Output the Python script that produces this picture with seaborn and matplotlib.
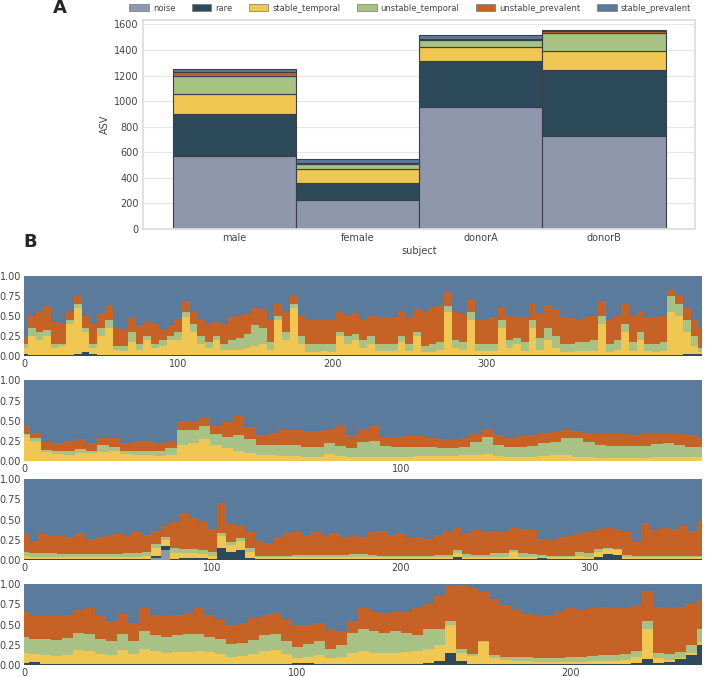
#!/usr/bin/env python3
import matplotlib
matplotlib.use("Agg")
import matplotlib.pyplot as plt
import numpy as np
import pandas as pd
import seaborn as sns
from matplotlib.patches import Patch

SUBJECTS = ["male", "female", "donorA", "donorB"]
TYPES = ["noise", "rare", "stable_temporal", "unstable_temporal",
         "unstable_prevalent", "stable_prevalent"]
COLORS = {
    "noise": "#8e97ab",
    "rare": "#2d4a5b",
    "stable_temporal": "#efc752",
    "unstable_temporal": "#a8c184",
    "unstable_prevalent": "#c66226",
    "stable_prevalent": "#5a7b9c",
}

# panel A: number of ASVs per class and subject
noise_asv = [572, 223, 957, 724]
rare_asv = [325, 139, 357, 521]
stable_temporal_asv = [157, 105, 110, 145]
unstable_temporal_asv = [143, 39, 52, 146]
unstable_prevalent_asv = [31, 13, 13, 13]
stable_prevalent_asv = [26, 26, 32, 11]

# panel B: relative abundance, cumulative top of each class per sample
# (stable_prevalent fills the rest up to 1)
male_days = np.arange(0, 445, 5)
male_rare = [0.02, 0.01, 0.01, 0.01, 0.01, 0.01, 0.01, 0.03, 0.05, 0.02,
             0.01, 0.01, 0.01, 0.01, 0.01, 0.01, 0.01, 0.01, 0.01, 0.01,
             0.01, 0.01, 0.01, 0.01, 0.01, 0.01, 0.01, 0.01, 0.01, 0.01,
             0.01, 0.01, 0.01, 0.01, 0.01, 0.01, 0.01, 0.01, 0.01, 0.01,
             0.01, 0.01, 0.01, 0.01, 0.01, 0.01, 0.01, 0.01, 0.01, 0.01,
             0.01, 0.01, 0.01, 0.01, 0.01, 0.01, 0.01, 0.01, 0.01, 0.01,
             0.01, 0.01, 0.01, 0.01, 0.01, 0.01, 0.01, 0.01, 0.01, 0.01,
             0.01, 0.01, 0.01, 0.01, 0.01, 0.01, 0.01, 0.01, 0.01, 0.01,
             0.01, 0.01, 0.01, 0.01, 0.01, 0.01, 0.02, 0.03, 0.03]
male_stable_temporal = [
    0.10, 0.25, 0.20, 0.25, 0.10, 0.12, 0.40, 0.60, 0.30, 0.10,
    0.25, 0.35, 0.07, 0.06, 0.18, 0.08, 0.20, 0.10, 0.12, 0.20,
    0.20, 0.48, 0.30, 0.15, 0.10, 0.20, 0.08, 0.08, 0.08, 0.10,
    0.12, 0.15, 0.08, 0.45, 0.20, 0.60, 0.15, 0.05, 0.05, 0.06,
    0.05, 0.25, 0.15, 0.20, 0.10, 0.15, 0.06, 0.06, 0.06, 0.18,
    0.06, 0.25, 0.05, 0.05, 0.08, 0.55, 0.10, 0.08, 0.45, 0.06,
    0.06, 0.06, 0.35, 0.10, 0.15, 0.06, 0.35, 0.08, 0.20, 0.10,
    0.05, 0.05, 0.06, 0.06, 0.06, 0.40, 0.05, 0.08, 0.30, 0.06,
    0.20, 0.06, 0.05, 0.06, 0.55, 0.50, 0.30, 0.12, 0.05]
male_unstable_temporal = [
    0.15, 0.35, 0.30, 0.32, 0.15, 0.15, 0.45, 0.65, 0.35, 0.15,
    0.35, 0.45, 0.12, 0.12, 0.30, 0.15, 0.25, 0.15, 0.20, 0.25,
    0.30, 0.55, 0.40, 0.25, 0.18, 0.25, 0.15, 0.20, 0.22, 0.28,
    0.38, 0.35, 0.18, 0.50, 0.30, 0.65, 0.25, 0.15, 0.15, 0.15,
    0.15, 0.30, 0.25, 0.28, 0.20, 0.25, 0.15, 0.15, 0.15, 0.25,
    0.15, 0.30, 0.12, 0.15, 0.18, 0.62, 0.20, 0.18, 0.55, 0.15,
    0.15, 0.15, 0.45, 0.20, 0.22, 0.18, 0.45, 0.22, 0.35, 0.25,
    0.15, 0.15, 0.18, 0.18, 0.20, 0.50, 0.15, 0.20, 0.40, 0.18,
    0.30, 0.15, 0.15, 0.18, 0.75, 0.65, 0.45, 0.25, 0.10]
male_unstable_prevalent = [
    0.22, 0.50, 0.55, 0.62, 0.42, 0.40, 0.55, 0.75, 0.50, 0.40,
    0.52, 0.62, 0.35, 0.32, 0.48, 0.38, 0.42, 0.40, 0.32, 0.38,
    0.45, 0.68, 0.55, 0.45, 0.40, 0.42, 0.40, 0.48, 0.50, 0.52,
    0.60, 0.58, 0.45, 0.65, 0.55, 0.75, 0.50, 0.45, 0.45, 0.45,
    0.45, 0.55, 0.50, 0.52, 0.45, 0.50, 0.48, 0.47, 0.48, 0.55,
    0.48, 0.58, 0.55, 0.60, 0.62, 0.80, 0.55, 0.52, 0.70, 0.45,
    0.45, 0.48, 0.60, 0.50, 0.48, 0.48, 0.65, 0.52, 0.63, 0.58,
    0.48, 0.47, 0.45, 0.48, 0.50, 0.68, 0.45, 0.50, 0.65, 0.50,
    0.55, 0.48, 0.48, 0.50, 0.82, 0.75, 0.60, 0.45, 0.35]

female_days = np.arange(0, 183, 3)
female_stable_temporal = [
    0.32, 0.25, 0.11, 0.09, 0.08, 0.10, 0.10, 0.11, 0.12, 0.09,
    0.08, 0.07, 0.06, 0.08, 0.20, 0.22, 0.27, 0.20, 0.16, 0.12,
    0.10, 0.08, 0.07, 0.06, 0.06, 0.05, 0.05, 0.09, 0.06, 0.05,
    0.05, 0.05, 0.05, 0.05, 0.05, 0.06, 0.06, 0.06, 0.06, 0.07,
    0.08, 0.09, 0.06, 0.05, 0.05, 0.05, 0.06, 0.07, 0.08, 0.05,
    0.05, 0.04, 0.04, 0.04, 0.04, 0.04, 0.05, 0.05, 0.05, 0.05,
    0.05]
female_unstable_temporal = [
    0.34, 0.28, 0.14, 0.12, 0.13, 0.15, 0.13, 0.20, 0.18, 0.13,
    0.13, 0.13, 0.13, 0.16, 0.38, 0.38, 0.43, 0.33, 0.30, 0.32,
    0.27, 0.20, 0.20, 0.20, 0.20, 0.18, 0.18, 0.22, 0.19, 0.16,
    0.24, 0.25, 0.19, 0.18, 0.18, 0.18, 0.17, 0.16, 0.16, 0.18,
    0.24, 0.30, 0.20, 0.18, 0.18, 0.19, 0.22, 0.24, 0.28, 0.28,
    0.24, 0.20, 0.19, 0.19, 0.19, 0.19, 0.21, 0.23, 0.20, 0.18,
    0.17]
female_unstable_prevalent = [
    0.44, 0.35, 0.24, 0.23, 0.25, 0.27, 0.23, 0.29, 0.28, 0.23,
    0.25, 0.25, 0.22, 0.24, 0.50, 0.48, 0.53, 0.44, 0.48, 0.56,
    0.42, 0.32, 0.35, 0.38, 0.38, 0.37, 0.37, 0.38, 0.43, 0.32,
    0.40, 0.44, 0.30, 0.30, 0.31, 0.31, 0.29, 0.27, 0.26, 0.28,
    0.34, 0.38, 0.32, 0.29, 0.31, 0.32, 0.35, 0.36, 0.38, 0.37,
    0.35, 0.33, 0.34, 0.33, 0.32, 0.33, 0.34, 0.34, 0.33, 0.32,
    0.30]

donorA_days = np.arange(0, 365, 5)
donorA_noise = [0.00, 0.00, 0.00, 0.00, 0.00, 0.00, 0.00, 0.00, 0.00, 0.00,
                0.00, 0.00, 0.00, 0.00, 0.02, 0.12, 0.00, 0.00, 0.00, 0.00,
                0.00, 0.00, 0.00, 0.00, 0.00, 0.00, 0.00, 0.00, 0.00, 0.00,
                0.00, 0.00, 0.00, 0.00, 0.00, 0.00, 0.00, 0.00, 0.00, 0.00,
                0.00, 0.00, 0.00, 0.00, 0.00, 0.00, 0.00, 0.00, 0.00, 0.00,
                0.00, 0.00, 0.00, 0.00, 0.00, 0.00, 0.00, 0.00, 0.00, 0.00,
                0.00, 0.00, 0.00, 0.00, 0.00, 0.00, 0.00, 0.00, 0.00, 0.00,
                0.00, 0.00, 0.00]
donorA_rare = [0.01, 0.01, 0.01, 0.01, 0.01, 0.01, 0.01, 0.01, 0.01, 0.01,
               0.01, 0.01, 0.01, 0.01, 0.05, 0.17, 0.01, 0.02, 0.02, 0.02,
               0.01, 0.15, 0.10, 0.12, 0.02, 0.01, 0.01, 0.01, 0.01, 0.01,
               0.01, 0.01, 0.01, 0.01, 0.01, 0.01, 0.01, 0.01, 0.01, 0.01,
               0.01, 0.01, 0.01, 0.01, 0.01, 0.01, 0.03, 0.01, 0.01, 0.01,
               0.01, 0.01, 0.01, 0.01, 0.01, 0.02, 0.01, 0.01, 0.01, 0.01,
               0.01, 0.03, 0.07, 0.06, 0.01, 0.01, 0.01, 0.01, 0.01, 0.01,
               0.01, 0.01, 0.01]
donorA_stable_temporal = [
    0.05, 0.04, 0.04, 0.04, 0.03, 0.03, 0.03, 0.03, 0.03, 0.04,
    0.04, 0.04, 0.04, 0.05, 0.15, 0.25, 0.08, 0.08, 0.08, 0.07,
    0.05, 0.30, 0.18, 0.24, 0.10, 0.03, 0.03, 0.03, 0.03, 0.03,
    0.03, 0.03, 0.03, 0.03, 0.03, 0.03, 0.03, 0.03, 0.03, 0.03,
    0.03, 0.03, 0.03, 0.03, 0.03, 0.03, 0.08, 0.04, 0.04, 0.04,
    0.04, 0.04, 0.10, 0.04, 0.04, 0.04, 0.03, 0.03, 0.03, 0.05,
    0.04, 0.10, 0.13, 0.12, 0.04, 0.03, 0.03, 0.03, 0.03, 0.03,
    0.03, 0.03, 0.03]
donorA_unstable_temporal = [
    0.10, 0.08, 0.08, 0.08, 0.07, 0.07, 0.07, 0.07, 0.07, 0.07,
    0.07, 0.08, 0.08, 0.10, 0.20, 0.28, 0.15, 0.14, 0.13, 0.12,
    0.10, 0.33, 0.22, 0.27, 0.15, 0.05, 0.05, 0.05, 0.05, 0.06,
    0.06, 0.06, 0.06, 0.06, 0.06, 0.07, 0.07, 0.06, 0.05, 0.05,
    0.05, 0.05, 0.05, 0.05, 0.06, 0.06, 0.12, 0.07, 0.06, 0.06,
    0.08, 0.08, 0.12, 0.08, 0.07, 0.06, 0.05, 0.05, 0.05, 0.10,
    0.08, 0.13, 0.15, 0.14, 0.06, 0.05, 0.05, 0.05, 0.05, 0.05,
    0.05, 0.05, 0.05]
donorA_unstable_prevalent = [
    0.32, 0.24, 0.32, 0.30, 0.30, 0.28, 0.33, 0.26, 0.28, 0.30,
    0.32, 0.30, 0.34, 0.31, 0.36, 0.42, 0.47, 0.58, 0.52, 0.47,
    0.38, 0.70, 0.45, 0.42, 0.35, 0.24, 0.21, 0.28, 0.33, 0.34,
    0.31, 0.34, 0.30, 0.33, 0.29, 0.30, 0.28, 0.34, 0.36, 0.31,
    0.33, 0.27, 0.29, 0.26, 0.31, 0.34, 0.40, 0.33, 0.37, 0.34,
    0.36, 0.35, 0.40, 0.38, 0.37, 0.26, 0.25, 0.28, 0.30, 0.33,
    0.35, 0.38, 0.40, 0.38, 0.34, 0.22, 0.46, 0.37, 0.40, 0.38,
    0.42, 0.36, 0.48]

donorB_days = np.arange(0, 252, 4)
donorB_rare = [0.02, 0.03, 0.01, 0.01, 0.01, 0.01, 0.01, 0.01, 0.01, 0.01,
               0.01, 0.01, 0.01, 0.01, 0.01, 0.01, 0.01, 0.01, 0.01, 0.01,
               0.01, 0.01, 0.01, 0.01, 0.01, 0.02, 0.02, 0.01, 0.01, 0.01,
               0.01, 0.01, 0.01, 0.01, 0.01, 0.01, 0.01, 0.02, 0.05, 0.15,
               0.05, 0.01, 0.01, 0.01, 0.01, 0.01, 0.01, 0.01, 0.01, 0.01,
               0.01, 0.01, 0.01, 0.01, 0.01, 0.01, 0.02, 0.07, 0.02, 0.03,
               0.07, 0.12, 0.25]
donorB_stable_temporal = [
    0.15, 0.13, 0.12, 0.11, 0.12, 0.18, 0.17, 0.13, 0.12, 0.18,
    0.13, 0.20, 0.17, 0.15, 0.16, 0.16, 0.17, 0.16, 0.14, 0.10,
    0.11, 0.13, 0.17, 0.18, 0.13, 0.08, 0.10, 0.12, 0.09, 0.10,
    0.15, 0.17, 0.15, 0.15, 0.15, 0.16, 0.17, 0.20, 0.25, 0.50,
    0.15, 0.11, 0.28, 0.09, 0.06, 0.05, 0.05, 0.04, 0.04, 0.04,
    0.04, 0.04, 0.05, 0.05, 0.05, 0.06, 0.10, 0.45, 0.08, 0.06,
    0.09, 0.15, 0.28]
donorB_unstable_temporal = [
    0.35, 0.32, 0.32, 0.31, 0.33, 0.40, 0.38, 0.32, 0.30, 0.38,
    0.30, 0.42, 0.37, 0.35, 0.37, 0.38, 0.38, 0.35, 0.32, 0.26,
    0.27, 0.31, 0.37, 0.38, 0.29, 0.22, 0.26, 0.30, 0.20, 0.25,
    0.40, 0.45, 0.42, 0.40, 0.42, 0.40, 0.37, 0.45, 0.45, 0.55,
    0.20, 0.14, 0.30, 0.12, 0.10, 0.10, 0.10, 0.08, 0.08, 0.09,
    0.10, 0.10, 0.11, 0.12, 0.12, 0.14, 0.17, 0.55, 0.15, 0.14,
    0.16, 0.25, 0.45]
donorB_unstable_prevalent = [
    0.65, 0.60, 0.60, 0.61, 0.62, 0.68, 0.70, 0.60, 0.55, 0.63,
    0.52, 0.70, 0.62, 0.60, 0.62, 0.64, 0.70, 0.62, 0.56, 0.50,
    0.52, 0.58, 0.62, 0.64, 0.56, 0.50, 0.50, 0.52, 0.45, 0.42,
    0.55, 0.70, 0.65, 0.64, 0.66, 0.65, 0.70, 0.75, 0.85, 0.98,
    0.99, 0.95, 0.90, 0.82, 0.74, 0.68, 0.63, 0.60, 0.62, 0.66,
    0.70, 0.68, 0.71, 0.72, 0.70, 0.70, 0.74, 0.92, 0.72, 0.70,
    0.72, 0.75, 0.82]


def draw_stack(ax, days, tops, names):
    # draw from the top class down so every layer overlaps the one above it
    ax.fill_between(days, 0, 1, step="mid", color=COLORS["stable_prevalent"], lw=0)
    for top, name in reversed(list(zip(tops, names))):
        ax.fill_between(days, 0, top, step="mid", color=COLORS[name], lw=0)
    ax.set_xlim(days[0], days[-1])
    ax.set_ylim(0, 1)
    ax.set_yticks([0, 0.25, 0.5, 0.75, 1.0])
    ax.set_yticklabels(["0.00", "0.25", "0.50", "0.75", "1.00"])
    ax.set_xticks([t for t in (0, 100, 200, 300) if t <= days[-1]])
    ax.grid(False)
    for s in ax.spines.values():
        s.set_visible(False)
    ax.tick_params(labelsize=7, colors="#444444", length=0, pad=2)


sns.set_theme(style="whitegrid")
plt.rcParams["font.family"] = ["DejaVu Sans"]

fig = plt.figure(figsize=(7.05, 6.77), dpi=100)

# ---- A ----
ax = fig.add_axes([0.203, 0.662, 0.783, 0.309])
counts = [noise_asv, rare_asv, stable_temporal_asv, unstable_temporal_asv,
          unstable_prevalent_asv, stable_prevalent_asv]
df = pd.DataFrame([
    {"subject": s, "type": t, "ASV": c[i]}
    for t, c in zip(TYPES, counts)
    for i, s in enumerate(SUBJECTS)
])
df["subject"] = pd.Categorical(df["subject"], categories=SUBJECTS, ordered=True)

# seaborn stacks the first hue level on top, so pass the order reversed
sns.histplot(data=df, x="subject", hue="type", weights="ASV", multiple="stack",
             discrete=True, shrink=1, hue_order=TYPES[::-1], palette=COLORS,
             alpha=1, edgecolor="#3a3f45", linewidth=0.8, legend=False, ax=ax)
ax.set_xlim(-0.74, 3.74)
ax.set_xticks(range(len(SUBJECTS)))
ax.set_xticklabels(SUBJECTS)
ax.set_ylabel("ASV", fontsize=7, color="#444444", labelpad=3)
ax.set_xlabel("subject", fontsize=7, color="#444444", labelpad=2)
ax.tick_params(labelsize=7, colors="#444444", length=0, pad=3)
ax.grid(axis="x", visible=False)
ax.grid(axis="y", color="#e6e6e6", lw=0.8)
for s in ax.spines.values():
    s.set_color("#dddddd")

handles = [Patch(facecolor=COLORS[t], edgecolor="#777777", lw=0.5, label=t) for t in TYPES]
ax.legend(handles=handles, loc="center", bbox_to_anchor=(0.484, 1.055), ncol=6,
          frameon=False, fontsize=6, handlelength=2.3, handleheight=0.9,
          columnspacing=2.0, handletextpad=0.5, labelcolor="#444444")

fig.text(0.085, 0.988, "A", fontsize=13, fontweight="bold", va="center", ha="center")
fig.text(0.043, 0.643, "B", fontsize=13, fontweight="bold", va="center", ha="center")

# ---- B ----
rows = [
    (0.474, male_days, [male_rare, male_stable_temporal, male_unstable_temporal,
                        male_unstable_prevalent],
     ["rare", "stable_temporal", "unstable_temporal", "unstable_prevalent"]),
    (0.319, female_days, [female_stable_temporal, female_unstable_temporal,
                          female_unstable_prevalent],
     ["stable_temporal", "unstable_temporal", "unstable_prevalent"]),
    (0.173, donorA_days, [donorA_noise, donorA_rare, donorA_stable_temporal,
                          donorA_unstable_temporal, donorA_unstable_prevalent],
     ["noise", "rare", "stable_temporal", "unstable_temporal", "unstable_prevalent"]),
    (0.018, donorB_days, [donorB_rare, donorB_stable_temporal,
                          donorB_unstable_temporal, donorB_unstable_prevalent],
     ["rare", "stable_temporal", "unstable_temporal", "unstable_prevalent"]),
]
for bottom, days, tops, names in rows:
    bax = fig.add_axes([0.034, bottom, 0.962, 0.119])
    draw_stack(bax, days, tops, names)

fig.savefig("out.png", dpi=100)
